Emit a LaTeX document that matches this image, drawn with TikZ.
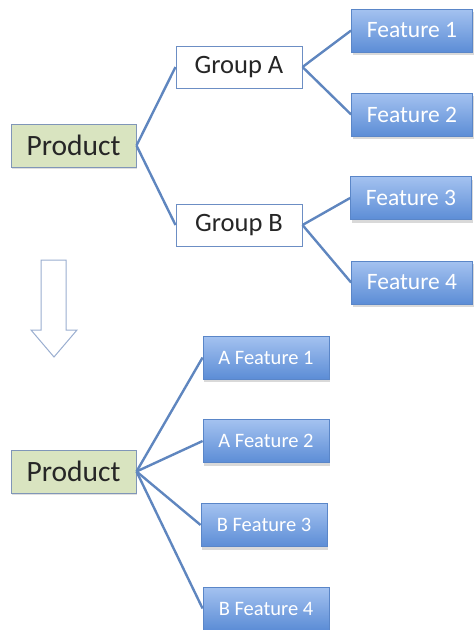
\documentclass[tikz,border=0pt]{standalone}
\usepackage{fontspec}
\setmainfont{Carlito}
\usetikzlibrary{shadows}
\definecolor{linkblue}{HTML}{5F86BF}
\definecolor{boxedge}{HTML}{6C8EC4}
\definecolor{feattop}{HTML}{A4C2F0}
\definecolor{featbot}{HTML}{5C8DD6}
\definecolor{featedge}{HTML}{5A86C8}
\definecolor{prodfill}{HTML}{D9E4C0}
\definecolor{prodedge}{HTML}{8096B8}
\definecolor{arrowedge}{HTML}{9AAED0}
\tikzset{
  link/.style={draw=linkblue, line width=2.4pt},
  prodbox/.style={draw=prodedge, line width=1pt, fill=prodfill,
    minimum width=125pt, minimum height=43pt, inner sep=0pt,
    font=\fontsize{29.5}{32}\selectfont, text=black!85,
    drop shadow={shadow xshift=1pt, shadow yshift=-2pt, opacity=0.25}},
  groupbox/.style={draw=boxedge, line width=1pt, fill=white,
    minimum width=126pt, minimum height=42pt, inner sep=0pt,
    font=\fontsize{26.5}{30}\selectfont, text=black!85},
  featbox/.style={draw=featedge, line width=0.8pt,
    top color=feattop, bottom color=featbot,
    minimum width=121pt, minimum height=43pt, inner sep=0pt,
    text=white, font=\fontsize{23.5}{27}\selectfont,
    drop shadow={shadow xshift=1pt, shadow yshift=-3pt, opacity=0.3}},
  subfeatbox/.style={featbox, minimum width=126pt, font=\fontsize{20.5}{24}\selectfont},
}
\begin{document}
\begin{tikzpicture}[x=1pt,y=-1pt]
\useasboundingbox (0,0) rectangle (475,630);
% grouped tree
\node[prodbox]  (p1) at (73.5,145.5) {Product};
\node[groupbox] (ga) at (239,67)     {Group A};
\node[groupbox] (gb) at (239,225)    {Group B};
\node[featbox]  (f1) at (412,30.5)   {Feature 1};
\node[featbox]  (f2) at (412,114.5)  {Feature 2};
\node[featbox]  (f3) at (411,198)    {Feature 3};
\node[featbox]  (f4) at (412,282.5)  {Feature 4};
\draw[link] (p1.east) -- (ga.west);
\draw[link] (p1.east) -- (gb.west);
\draw[link] (ga.east) -- (f1.west);
\draw[link] (ga.east) -- (f2.west);
\draw[link] (gb.east) -- (f3.west);
\draw[link] (gb.east) -- (f4.west);
% hollow down arrow
\draw[arrowedge, line width=1pt, fill=white, line join=miter]
  (41,260) -- (66,260) -- (66,330) -- (77,330) -- (54,357) -- (31,330) -- (41,330) -- cycle;
% flattened tree
\node[prodbox]    (p2) at (73.5,471.5) {Product};
\node[subfeatbox] (a1) at (266,357.5)  {A Feature 1};
\node[subfeatbox] (a2) at (266,441)    {A Feature 2};
\node[subfeatbox] (b3) at (264,525)    {B Feature 3};
\node[subfeatbox] (b4) at (266,608.5)  {B Feature 4};
\draw[link] (p2.east) -- (a1.west);
\draw[link] (p2.east) -- (a2.west);
\draw[link] (p2.east) -- (b3.west);
\draw[link] (p2.east) -- (b4.west);
\end{tikzpicture}
\end{document}
